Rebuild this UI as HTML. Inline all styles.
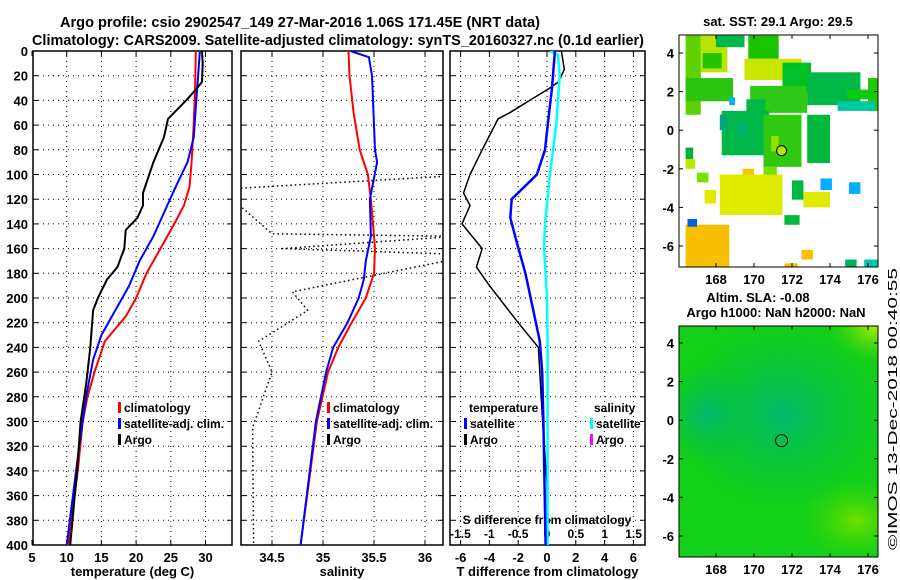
<!DOCTYPE html>
<html><head><meta charset="utf-8"><style>
html,body{margin:0;padding:0;background:#fff;}
svg{display:block;font-family:"Liberation Sans",Arial,sans-serif;font-weight:bold;}
</style></head><body>
<svg id="chart" width="900" height="580" viewBox="0 0 900 580" xmlns="http://www.w3.org/2000/svg">
<text x="300" y="27" font-size="15" text-anchor="middle" textLength="480" lengthAdjust="spacingAndGlyphs">Argo profile: csio 2902547_149 27-Mar-2016 1.06S 171.45E (NRT data)</text>
<text x="338" y="45" font-size="15" text-anchor="middle" textLength="612" lengthAdjust="spacingAndGlyphs">Climatology: CARS2009. Satellite-adjusted climatology: synTS_20160327.nc (0.1d earlier)</text>
<g id="g1"></g>
<g id="g2"></g>
<g id="g3"></g>
<g id="m1"></g>
<g id="m2"></g>
<text x="0" y="0" font-size="13" style="font-weight:normal" transform="translate(897,550) rotate(-90)" textLength="282" lengthAdjust="spacingAndGlyphs">©IMOS 13-Dec-2018 00:40:55</text>
</svg>
<script>
// ---- data ----
const depthTicks=[0,20,40,60,80,100,120,140,160,180,200,220,240,260,280,300,320,340,360,380,400];
const tempTicks=[5,10,15,20,25,30];
const salTicks=[34.5,35,35.5,36];
const salTickLabels=["34.5","35","35.5","36"];
const tdTicks=[-6,-4,-2,0,2,4,6];
const sdTicks=[-1.5,-1,-0.5,0,0.5,1,1.5];
const sdTickLabels=["-1.5","-1","-0.5","0","0.5","1","1.5"];

const argoTDepth=[0,10,25,30,40,55,70,90,115,125,135,145,160,175,185,200,210,240,270,300,340,400];
const argoTemp=[29.5,29.6,29.5,28.8,27.2,24.6,24,22.5,21,21,20.2,18.5,18.3,17.3,15.8,14.5,13.8,13.4,12.8,12,11.5,10.5];
const climTDepth=[0,30,60,90,110,125,140,160,180,200,215,235,260,280,300,340,400];
const climTemp=[28.6,28.5,28.3,28,27.7,26.9,25.5,23.5,21.5,20,18.5,15.5,14,13,12.3,11.6,10.2];
const satTDepth=[0,30,70,90,110,125,150,170,190,210,230,250,280,320,400];
const satTemp=[29.2,28.8,28.3,27.4,25.7,24.5,22.5,20.5,19,17,15,13.8,12.8,11.8,10];

const climSDepth=[0,20,50,80,100,120,140,160,180,200,220,240,260,300,400];
const climSal=[35.25,35.26,35.3,35.36,35.44,35.47,35.49,35.51,35.5,35.42,35.28,35.15,35.05,34.94,34.78];
const satSDepth=[0,5,20,80,90,120,150,170,185,200,220,240,260,300,400];
const satSal=[35.27,35.45,35.48,35.51,35.53,35.46,35.47,35.42,35.4,35.35,35.24,35.1,35.03,34.93,34.78];
const argoSDepth=[100,112,148,150,160,165,195,210,235,260,305,400];
const argoSal=[36.5,34.0,34.5,36.3,34.6,36.5,34.7,34.85,34.37,34.5,34.31,34.32];

const dDepthA=[0,15,25,30,40,50,55,80,100,115,125,140,160,175,190,220,240,280,310,350,400];
const dTArgo=[1.0,1.2,0.8,0.2,-1.2,-2.6,-3.4,-4.5,-5.35,-5.8,-5.35,-5.9,-4.5,-4.9,-4.0,-2.0,-0.6,-0.4,-0.25,0,0];
const dDepthS=[0,30,60,80,100,120,135,155,180,210,235,260,300,400];
const dTSat=[0.55,0.35,0.05,-0.14,-0.7,-2.45,-2.55,-2.1,-1.5,-0.95,-0.5,-0.33,-0.25,-0.1];
const dSDepth=[0,3,20,60,100,140,160,200,240,400];
const dSSat=[0.05,0.19,0.22,0.16,0.05,-0.035,-0.05,0,0.01,0.01];

const lonTicks=[168,170,172,174,176];
const latTicks=[4,2,0,-2,-4,-6];
// SST cells: lon0, lon1, lat0, lat1, colour
const cellLon0=[166.4,166.4,167.2,168,169.7,169.5,171.5,169.8,172.8,176,174.4,168.3,169.2,170.5,172.8,166.4,166.4,167,169.4,170.5,168.2,167.4,172,172.6,173.5,175,171.6,166.4,166.5,172.5,171.6,174.8,175.8,168.7,174.9,170.9,168.2,167.3,169.6,171.6];
const cellLon1=[167.2,168.9,168.6,169.5,171.3,172.5,173,172.8,175.6,176.5,176.4,170.8,169.6,172.5,174,166.8,166.9,167.6,170,171.2,171.5,168,172.6,174,174.1,175.6,172.4,168.7,167,173.1,172.3,175.4,176.5,169,176.3,171.3,168.6,168.3,170.6,172.4];
const cellLat0=[4.9,2.7,4.9,4.9,4.9,3.7,3.5,2.3,3,2.7,1.5,1,0.4,0.8,0.8,-0.9,-1.5,-2.2,-2.0,-1.9,-2.3,-3.1,-2.6,-3.2,-2.5,-2.7,-4.4,-4.9,-4.6,-6.2,-6.9,-6.7,-6.7,1.7,2.1,-0.3,0.8,4.0,1.6,3.3];
const cellLat1=[0.8,1.5,3.0,4.3,3.7,2.6,1.9,0.9,1.3,1.0,1.0,-1.3,-0.3,-1.9,-1.7,-1.5,-2.0,-2.7,-2.6,-2.4,-4.4,-3.8,-3.6,-4.0,-3.1,-3.3,-4.9,-7.1,-5.0,-6.7,-7.1,-7.1,-7.1,1.3,1.6,-1.1,0.0,3.2,0.9,2.6];
const cellColor=["#5fd000","#2cc410","#b8e400","#00b84a","#1cc400","#c8e600","#00c020","#2ec818","#00b848","#20c800","#00c8a0","#00b84a","#00b070","#30c810","#00b840","#00b040","#c0e600","#77e000","#f5c800","#77e000","#e0ea00","#e0ea00","#00b840","#e0ea00","#00b0ff","#00b0ff","#00b840","#f8c000","#0060e0","#f8c000","#f8c000","#00b060","#00c8b0","#00b0ff","#10c810","#90e000","#00a878","#20c400","#00b848","#00c030"];

// ---- helpers ----
const NS="http://www.w3.org/2000/svg";
function mk(parent,tag,attrs,text){const e=document.createElementNS(NS,tag);for(const k in attrs)e.setAttribute(k,attrs[k]);if(text!==undefined)e.textContent=text;parent.appendChild(e);return e;}
const top0=51,bot0=545;
const yD=d=>top0+(bot0-top0)*d/400;
function panel(g,x0,x1,xf,xt,xlabels,xTitle,pname){
  const grid=mk(g,'g',{});
  
  
  depthTicks.forEach(d=>{if(d>0&&d<400){mk(grid,'line',{x1:x0,x2:x1,y1:yD(d),y2:yD(d),stroke:'#000','stroke-width':1,'stroke-dasharray':'1,4'});}});
  xt.forEach(v=>{const x=xf(v);if(x>x0+1&&x<x1-1)mk(grid,'line',{x1:x,x2:x,y1:top0,y2:bot0,stroke:'#000','stroke-width':1,'stroke-dasharray':'1,4'});});
  depthTicks.forEach(d=>{mk(grid,'line',{x1:x0,x2:x0+5,y1:yD(d),y2:yD(d),stroke:'#000'});mk(grid,'line',{x1:x1-5,x2:x1,y1:yD(d),y2:yD(d),stroke:'#000'});});
  xt.forEach(v=>{const x=xf(v);mk(grid,'line',{x1:x,x2:x,y1:top0,y2:top0+5,stroke:'#000'});mk(grid,'line',{x1:x,x2:x,y1:bot0-5,y2:bot0,stroke:'#000'});});
  const fr=mk(g,'rect',{x:x0,y:top0,width:x1-x0,height:bot0-top0,fill:'none',stroke:'#000','stroke-width':1.5});
  
  
  if(xlabels){xt.forEach((v,i)=>{const t=mk(g,'text',{x:xf(v),y:562,'font-size':13,'text-anchor':'middle'},xlabels[i]);
    
    });}
  const tt=mk(g,'text',{x:(x0+x1)/2,y:576,'font-size':13,'text-anchor':'middle'},xTitle);
  
  
}
function line(g,xs,ds,xf,color,w,name,dash,clipId){
  const pts=xs.map((v,i)=>xf(v).toFixed(1)+','+yD(ds[i]).toFixed(1)).join(' ');
  const a={points:pts,fill:'none',stroke:color,'stroke-width':w,'stroke-linejoin':'round'};
  if(dash)a['stroke-dasharray']=dash;
  if(clipId)a['clip-path']='url(#'+clipId+')';
  const p=mk(g,'polyline',a);
  
  
}
function legend(g,x,y,color,label,name){
  mk(g,'rect',{x:x,y:y-10,width:3,height:11,fill:color});
  const t=mk(g,'text',{x:x+6,y:y,'font-size':12},label);
  
  
}
const svg=document.getElementById('chart');
const defs=mk(svg,'defs',{});
[['c1',33,232],['c2',241,443],['c3',450,645]].forEach(c=>{const cp=mk(defs,'clipPath',{id:c[0]});mk(cp,'rect',{x:c[1],y:top0,width:c[2]-c[1],height:bot0-top0});});

// ---- panel 1 ----
const g1=document.getElementById('g1');
const xT=t=>32+(t-5)*6.94;
panel(g1,33,232,xT,tempTicks,tempTicks.map(String),'temperature (deg C)','temperature');
depthTicks.forEach(d=>{const t=mk(g1,'text',{x:28,y:yD(d)+5,'font-size':13,'text-anchor':'end'},String(d));
  
  });
line(g1,climTemp,climTDepth,xT,'#ff0000',2,'climatology-temperature-line',null,'c1');
line(g1,satTemp,satTDepth,xT,'#0000ff',2,'satellite-temperature-line',null,'c1');
line(g1,argoTemp,argoTDepth,xT,'#000',2,'argo-temperature-line',null,'c1');
legend(g1,118,412,'#ff0000','climatology','legend-climatology');
legend(g1,118,428,'#0000ff','satellite-adj. clim.','legend-satellite-adj');
legend(g1,118,444,'#000','Argo','legend-argo');

// ---- panel 2 ----
const g2=document.getElementById('g2');
const xS=s=>272+(s-34.5)*102;
panel(g2,241,443,xS,salTicks,salTickLabels,'salinity','salinity');
line(g2,argoSal,argoSDepth,xS,'#000',1.5,'argo-salinity-dotted-line','1.5,3','c2');
line(g2,climSal,climSDepth,xS,'#ff0000',2,'climatology-salinity-line',null,'c2');
line(g2,satSal,satSDepth,xS,'#0000ff',2,'satellite-salinity-line',null,'c2');
legend(g2,327,412,'#ff0000','climatology','legend-climatology-sal');
legend(g2,327,428,'#0000ff','satellite-adj. clim.','legend-satellite-adj-sal');
legend(g2,327,444,'#000','Argo','legend-argo-sal');

// ---- panel 3 ----
const g3=document.getElementById('g3');
const xdT=v=>547+v*14.4;
const xdS=v=>547+v*57.7;
panel(g3,450,645,xdT,tdTicks,tdTicks.map(String),'T difference from climatology','difference');
sdTicks.forEach((v,i)=>{const t=mk(g3,'text',{x:xdS(v),y:538,'font-size':12,'text-anchor':'middle'},sdTickLabels[i]);
  
  });
const st=mk(g3,'text',{x:547,y:524,'font-size':12,'text-anchor':'middle'},'S difference from climatology');


line(g3,dTArgo,dDepthA,xdT,'#000',1.5,'argo-temperature-difference-line',null,'c3');
line(g3,dSSat,dSDepth,xdS,'#00ffff',2.5,'satellite-salinity-difference-line',null,'c3');
line(g3,dTSat,dDepthS,xdT,'#0000ff',2.5,'satellite-temperature-difference-line',null,'c3');
const lt=mk(g3,'text',{x:469,y:412,'font-size':12},'temperature');


legend(g3,464,428,'#0000ff','satellite','legend-temp-satellite');
legend(g3,464,444,'#000','Argo','legend-temp-argo');
const ls=mk(g3,'text',{x:594,y:412,'font-size':12},'salinity');


legend(g3,590,428,'#00ffff','satellite','legend-sal-satellite');
legend(g3,590,444,'#ff00ff','Argo','legend-sal-argo');

// ---- maps ----
function mapAxes(g,x0,x1,y0,y1,lonX,latY,name){
  lonTicks.forEach(v=>{const x=lonX(v);mk(g,'line',{x1:x,x2:x,y1:y0,y2:y0+4,stroke:'#000'});mk(g,'line',{x1:x,x2:x,y1:y1-4,y2:y1,stroke:'#000'});
    const t=mk(g,'text',{x:x,y:y1+17,'font-size':13,'text-anchor':'middle'},String(v));
    
    });
  latTicks.forEach(v=>{const y=latY(v);mk(g,'line',{x1:x0,x2:x0+4,y1:y,y2:y,stroke:'#000'});mk(g,'line',{x1:x1-4,x2:x1,y1:y,y2:y,stroke:'#000'});
    const t=mk(g,'text',{x:x0-5,y:y+5,'font-size':13,'text-anchor':'end'},String(v));
    
    });
  mk(g,'rect',{x:x0,y:y0,width:x1-x0,height:y1-y0,fill:'none',stroke:'#000','stroke-width':1});
}
const m1=document.getElementById('m1');
const lon1=v=>716+(v-168)*19, lat1=v=>53+(4-v)*19.3;
mk(m1,'rect',{x:679,y:35,width:199,height:232,fill:'#fff'});
const cp1=mk(defs,'clipPath',{id:'cm1'});mk(cp1,'rect',{x:679,y:35,width:199,height:232});
const cells=mk(m1,'g',{'clip-path':'url(#cm1)'});
cellLon0.forEach((l,i)=>{const x=lon1(l),y=lat1(cellLat0[i]);
  const r=mk(cells,'rect',{x:x,y:y,width:lon1(cellLon1[i])-x,height:lat1(cellLat1[i])-y,fill:cellColor[i]});
  
  });
mk(m1,'circle',{cx:lon1(171.45),cy:lat1(-1.06),r:5,fill:'#b8e400',stroke:'#000'});
mapAxes(m1,679,878,35,267,lon1,lat1,'sst-map');
const mt1=mk(m1,'text',{x:778,y:26,'font-size':13,'text-anchor':'middle'},'sat. SST: 29.1 Argo: 29.5');



const m2=document.getElementById('m2');
const lon2=v=>716+(v-168)*19, lat2=v=>343+(4-v)*19.3;
const rg=mk(defs,'radialGradient',{id:'blob1',cx:'0.5',cy:'0.5',r:'0.5'});
mk(rg,'stop',{offset:'0','stop-color':'#00bb70'});mk(rg,'stop',{offset:'1','stop-color':'#00c040','stop-opacity':'0'});
const rg2=mk(defs,'radialGradient',{id:'blob2',cx:'0.5',cy:'0.5',r:'0.5'});
mk(rg2,'stop',{offset:'0','stop-color':'#70e000'});mk(rg2,'stop',{offset:'1','stop-color':'#40d800','stop-opacity':'0'});
const rg3=mk(defs,'radialGradient',{id:'blob3',cx:'0.5',cy:'0.5',r:'0.5'});
mk(rg3,'stop',{offset:'0','stop-color':'#b0ee00'});mk(rg3,'stop',{offset:'1','stop-color':'#60dc00','stop-opacity':'0'});
const cp2=mk(defs,'clipPath',{id:'cm2'});mk(cp2,'rect',{x:679,y:326,width:199,height:231});
const mg=mk(m2,'g',{'clip-path':'url(#cm2)'});
mk(mg,'rect',{x:679,y:326,width:199,height:231,fill:'#14d018'});
mk(mg,'ellipse',{cx:lon2(171.5),cy:lat2(0.3),rx:110,ry:95,fill:'url(#blob1)'});
mk(mg,'ellipse',{cx:lon2(167.6),cy:lat2(0.3),rx:50,ry:50,fill:'url(#blob1)'});
mk(mg,'ellipse',{cx:lon2(175.4),cy:lat2(-5.2),rx:55,ry:40,fill:'url(#blob2)'});
mk(mg,'ellipse',{cx:lon2(176.4),cy:lat2(4.9),rx:45,ry:35,fill:'url(#blob3)'});
mk(m2,'circle',{cx:lon2(171.45),cy:lat2(-1.06),r:6,fill:'none',stroke:'#000'});
mapAxes(m2,679,878,326,557,lon2,lat2,'sla-map');
const mt2=mk(m2,'text',{x:758,y:302,'font-size':13,'text-anchor':'middle'},'Altim. SLA: -0.08');


const mt3=mk(m2,'text',{x:776,y:317,'font-size':13,'text-anchor':'middle'},'Argo h1000: NaN h2000: NaN');


</script>
</body></html>
